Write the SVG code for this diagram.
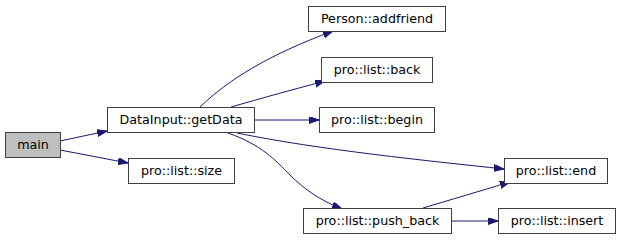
<svg xmlns="http://www.w3.org/2000/svg" width="620" height="240" viewBox="0 0 620 240">
  <style>
    .node rect { fill: #ffffff; stroke: #404040; stroke-width: 1; }
    .node.root rect { fill: #bfbfbf; }
    .node text { font-family: "DejaVu Sans", "Liberation Sans", sans-serif; font-size: 12.7px; fill: #000000; text-anchor: middle; }
    .edges path { fill: none; stroke: #191970; stroke-width: 1; marker-end: url(#arrow); }
  </style>
  <defs>
    <marker id="arrow" markerUnits="userSpaceOnUse" markerWidth="11" markerHeight="8" refX="10" refY="3.5" orient="auto">
      <path d="M0,0 L10,3.5 L0,7 Z" fill="#191970" stroke="#191970" stroke-width="1"/>
    </marker>
  </defs>

  <rect width="620" height="240" fill="#ffffff"/>

  <g class="edges">
    <!-- main calls -->
    <path d="M60,141 L107,131"/>
    <path d="M60,150 L128,163"/>
    <!-- DataInput::getData calls -->
    <path d="M200,107 C228,80 268,55 333,31"/>
    <path d="M231,107 C262,98 295,89 325,81"/>
    <path d="M254,120 L319,120"/>
    <path d="M237,133 C320,150 430,161 504,169"/>
    <path d="M228,133 C262,145 275,160 290,175 C305,190 320,200 342,209"/>
    <!-- pro::list::push_back calls -->
    <path d="M423,208 C450,200 480,191 510,182"/>
    <path d="M451,221 L498,221"/>
  </g>

  <g id="node-main" class="node root">
    <rect x="5.5" y="132.5" width="55" height="25"/>
    <text x="33" y="149">main</text>
  </g>
  <g id="node-getData" class="node">
    <rect x="107.5" y="107.5" width="147" height="25"/>
    <text x="181" y="124">DataInput::getData</text>
  </g>
  <g id="node-size" class="node">
    <rect x="128.5" y="158.5" width="106" height="25"/>
    <text x="181.5" y="175">pro::list::size</text>
  </g>
  <g id="node-addfriend" class="node">
    <rect x="308.5" y="6.5" width="137" height="25"/>
    <text x="377" y="23">Person::addfriend</text>
  </g>
  <g id="node-back" class="node">
    <rect x="321.5" y="57.5" width="111" height="25"/>
    <text x="377" y="74">pro::list::back</text>
  </g>
  <g id="node-begin" class="node">
    <rect x="319.5" y="107.5" width="115" height="25"/>
    <text x="377" y="124">pro::list::begin</text>
  </g>
  <g id="node-end" class="node">
    <rect x="504.5" y="158.5" width="103" height="25"/>
    <text x="556" y="175">pro::list::end</text>
  </g>
  <g id="node-push_back" class="node">
    <rect x="303.5" y="208.5" width="148" height="25"/>
    <text x="377.5" y="225">pro::list::push_back</text>
  </g>
  <g id="node-insert" class="node">
    <rect x="498.5" y="208.5" width="117" height="25"/>
    <text x="557" y="225">pro::list::insert</text>
  </g>
</svg>
